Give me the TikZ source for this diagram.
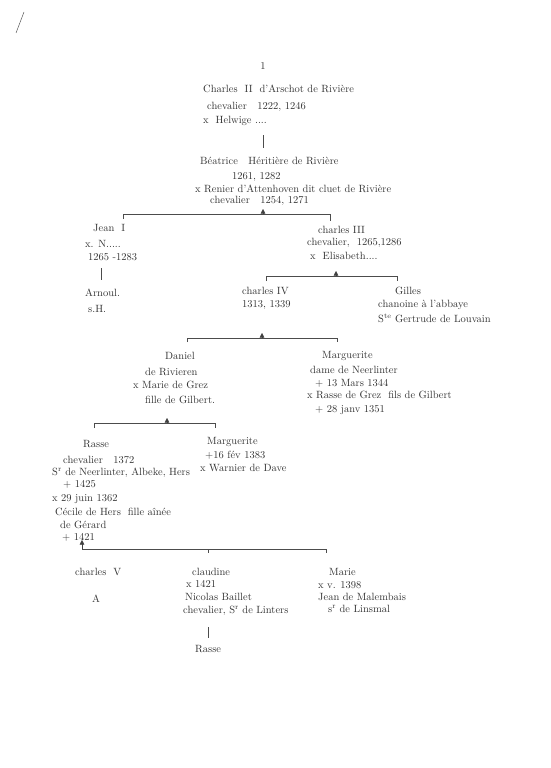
\documentclass[tikz,border=0pt]{standalone}
\usepackage{tikz}
\usetikzlibrary{arrows.meta}

\tikzset{
  txt/.style = {anchor=west, inner sep=0pt, text=black!80, font=\fontsize{10.5}{12}\selectfont},
  bar/.style = {draw=black!70, line width=0.45pt},
  tri/.style = {draw=black!75, line width=0.45pt, fill=black!75, -{Triangle[width=4.5pt,length=4.5pt]}}
}

\begin{document}
\begin{tikzpicture}[x=1pt, y=-1pt]
    \useasboundingbox[fill=white](0,0)rectangle(551,768);
    \draw[bar](24,12)--(16,33);

    % Charles II
    \node[txt, anchor=center] (num) at (263,66) {1};
    \node[txt] (ch2) at (203,89) {Charles\ \ II\ \ d'Arschot de Rivière};
    \node[txt] (ch2a) at (207,107) {chevalier\quad 1222, 1246};
    \node[txt] (ch2b) at (203,121) {x\ \ Helwige ....};
    \coordinate (v1a) at (263,135);
    \coordinate (v1b) at (263,148);
    \draw[bar](v1a)--(v1b);

    % Beatrice
    \node[txt] (beat) at (200,161) {Béatrice\quad Héritière de Rivière};
    \node[txt] (beata) at (232,177) {1261, 1282};
    \node[txt] (beatb) at (195,189) {x\ Renier d'Attenhoven dit cluet de Rivière};
    \node[txt] (beatc) at (210,201) {chevalier\quad 1254, 1271};
    \coordinate (b1l) at (123,214);
    \coordinate (b1r) at (330,214);
    \coordinate (t1) at (263,214);
    \draw[bar]([yshift=-5pt]b1l)--(b1l)--(b1r)--([yshift=-7pt]b1r);
    \draw[tri](t1)--++(0,-5);

    % Jean I
    \node[txt] (jean) at (93,228) {Jean\ \ I};
    \node[txt] (jeana) at (85,244) {x. N.....};
    \node[txt] (jeanb) at (88,257) {1265 -1283};
    \coordinate (v2a) at (101,268);
    \coordinate (v2b) at (101,280);
    \draw[bar](v2a)--(v2b);
    \node[txt] (arnoul) at (85,293) {Arnoul.};
    \node[txt] (arnoula) at (88,309) {s.H.};

    % Charles III
    \node[txt] (ch3) at (318,230) {charles III};
    \node[txt] (ch3a) at (307,243) {chevalier,\ \ 1265,1286};
    \node[txt] (ch3b) at (310,256) {x\ \ Elisabeth....};
    \coordinate (b2l) at (266,276);
    \coordinate (b2r) at (397,276);
    \coordinate (t2) at (336,276);
    \draw[bar]([yshift=-5pt]b2l)--(b2l)--(b2r)--([yshift=-5pt]b2r);
    \draw[tri](t2)--++(0,-5);

    % Charles IV, Gilles
    \node[txt] (ch4) at (242,291) {charles IV};
    \node[txt] (ch4a) at (242,305) {1313, 1339};
    \node[txt] (gil) at (395,291) {Gilles};
    \node[txt] (gila) at (378,305) {chanoine à l'abbaye};
    \node[txt] (gilb) at (378,318) {S\textsuperscript{te} Gertrude de Louvain};
    \coordinate (b3l) at (187,338);
    \coordinate (b3r) at (337,338);
    \coordinate (t3) at (262,338);
    \draw[bar]([yshift=-4pt]b3l)--(b3l)--(b3r)--([yshift=-4pt]b3r);
    \draw[tri](t3)--++(0,-5);

    % Daniel
    \node[txt] (dan) at (165,356) {Daniel};
    \node[txt] (dana) at (145,372) {de Rivieren};
    \node[txt] (danb) at (133,385) {x Marie de Grez};
    \node[txt] (danc) at (145,400) {fille de Gilbert.};
    \coordinate (b4l) at (94,423);
    \coordinate (b4r) at (215,423);
    \coordinate (t4) at (167,423);
    \draw[bar]([yshift=-5pt]b4l)--(b4l)--(b4r)--([yshift=-5pt]b4r);
    \draw[tri](t4)--++(0,-5);

    % Marguerite (dame de Neerlinter)
    \node[txt] (mar) at (322,356) {Marguerite};
    \node[txt] (mara) at (310,370) {dame de Neerlinter};
    \node[txt] (marb) at (315,383) {+ 13 Mars 1344};
    \node[txt] (marc) at (307,395) {x\ Rasse de Grez\ \ fils de Gilbert};
    \node[txt] (mard) at (315,410) {+ 28 janv 1351};

    % Rasse
    \node[txt] (ras) at (83,444) {Rasse};
    \node[txt] (rasa) at (63,460) {chevalier\quad 1372};
    \node[txt] (rasb) at (52,473) {S\textsuperscript{r} de Neerlinter, Albeke, Hers};
    \node[txt] (rasc) at (63,484) {+ 1425};
    \node[txt] (rasd) at (52,499) {x 29 juin 1362};
    \node[txt] (rase) at (55,512) {Cécile de Hers\ \ fille aînée};
    \node[txt] (rasf) at (60,525) {de Gérard};
    \node[txt] (rasg) at (62,537) {+ 1421};

    % Marguerite (x Warnier de Dave)
    \node[txt] (marg) at (207,442) {Marguerite};
    \node[txt] (marga) at (205,455) {+16 fév 1383};
    \node[txt] (margb) at (200,468) {x Warnier de Dave};

    \coordinate (b5l) at (82,549);
    \coordinate (b5m) at (208,549);
    \coordinate (b5r) at (326,549);
    \draw[bar](b5l)--(b5r)--([yshift=-4pt]b5r);
    \draw[bar](b5m)--([yshift=-4pt]b5m);
    \draw[tri](b5l)--++(0,-9);

    % children of Rasse
    \node[txt] (ch5) at (75,572) {charles\ \ V};
    \node[txt] (ch5a) at (92,599) {A};
    \node[txt] (cla) at (192,572) {claudine};
    \node[txt] (claa) at (186,584) {x 1421};
    \node[txt] (clab) at (185,597) {Nicolas Baillet};
    \node[txt] (clac) at (183,611) {chevalier, S\textsuperscript{r} de Linters};
    \coordinate (v3a) at (208,627);
    \coordinate (v3b) at (208,638);
    \draw[bar](v3a)--(v3b);
    \node[txt] (clad) at (195,649) {Rasse};
    \node[txt] (mari) at (329,572) {Marie};
    \node[txt] (maria) at (318,585) {x v. 1398};
    \node[txt] (marib) at (318,597) {Jean de Malembais};
    \node[txt] (maric) at (328,609) {s\textsuperscript{r} de Linsmal};
\end{tikzpicture}
\end{document}
